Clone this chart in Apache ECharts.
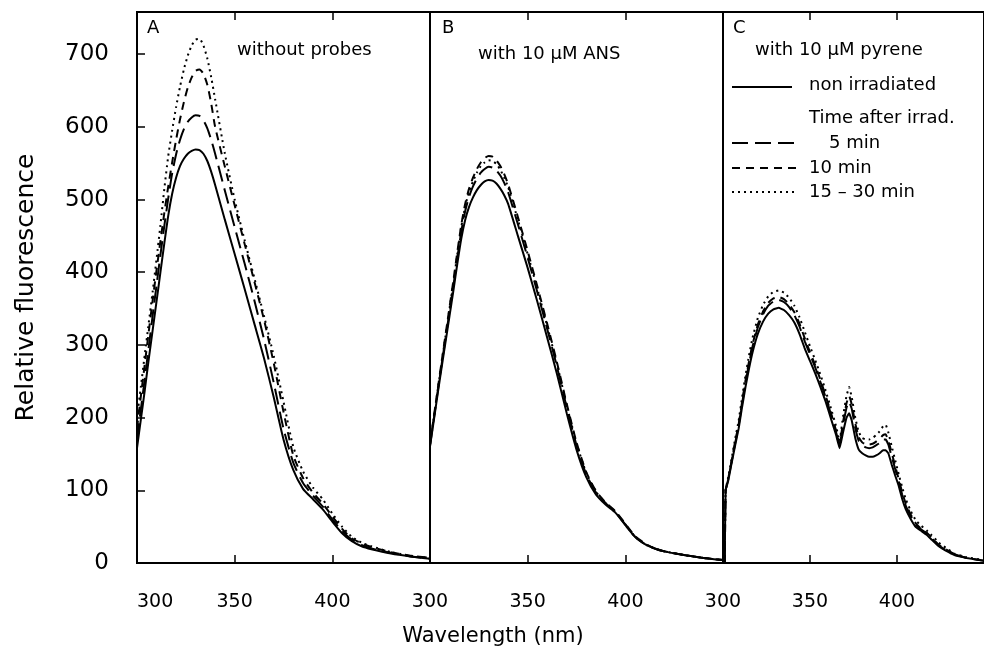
<!DOCTYPE html>
<html>
<head>
<meta charset="utf-8">
<script src="https://cdn.jsdelivr.net/npm/echarts@6/dist/echarts.min.js"></script>
<style>
  html, body { margin: 0; padding: 0; background: #fff; }
  #chart { width: 984px; height: 670px; }
</style>
</head>
<body>
<div id="chart"></div>
<script>
// Emission wavelengths (nm) sampled for panels A and B
const waveAB = [300, 302, 304, 306, 308, 310, 312, 314, 316, 318, 320, 322, 324, 326, 328, 330, 332, 334, 336, 338, 340, 345, 350, 355, 360, 365, 370, 375, 380, 385, 390, 395, 400, 405, 410, 415, 420, 430, 440, 450];
// Panel C is sampled more densely around the pyrene bands
const waveC = [301, 301.5, 303, 305, 307, 309, 311, 313, 315, 317, 320, 323, 326, 329, 332, 335, 338, 341, 344, 347, 350, 353, 356, 359, 362, 365, 367, 369, 371, 372.5, 374, 376, 378, 380, 382, 384, 386, 388, 390, 392, 393.5, 395, 397, 399, 401, 403, 405, 408, 411, 414, 417, 420, 424, 428, 433, 440, 450];

// A: without probes
const aNonIrr = [158, 198, 238, 280, 320, 360, 400, 440, 478, 508, 530, 546, 556, 563, 567, 569, 568, 563, 553, 538, 520, 472, 425, 378, 330, 282, 228, 170, 128, 102, 88, 74, 57, 41, 30, 23, 19, 13, 9, 6];
const a5min   = [170, 212, 254, 297, 340, 382, 424, 464, 502, 536, 562, 582, 597, 607, 613, 616, 615, 609, 598, 582, 563, 512, 462, 413, 362, 308, 248, 185, 138, 110, 93, 78, 60, 44, 32, 25, 20, 14, 9, 6];
const a10min  = [185, 230, 274, 318, 361, 403, 443, 482, 518, 551, 582, 610, 634, 654, 668, 677, 679, 673, 658, 632, 600, 545, 492, 440, 388, 335, 275, 208, 148, 117, 97, 82, 64, 47, 34, 27, 22, 15, 10, 7];
const a15min  = [200, 243, 287, 330, 373, 418, 465, 515, 560, 595, 627, 655, 679, 698, 712, 720, 721, 712, 694, 668, 638, 563, 500, 445, 393, 340, 285, 222, 160, 126, 104, 88, 68, 50, 36, 28, 23, 15, 10, 7];

// B: with 10 µM ANS
const bNonIrr = [160, 197, 234, 270, 305, 340, 375, 412, 446, 472, 490, 503, 513, 520, 525, 527, 526, 522, 515, 506, 494, 450, 406, 359, 310, 260, 206, 156, 118, 94, 80, 69, 52, 36, 26, 20, 16, 11, 7, 4];
const b5min   = [162, 199, 237, 274, 310, 346, 382, 420, 456, 484, 504, 518, 529, 537, 542, 545, 544, 540, 533, 523, 510, 466, 420, 372, 322, 270, 214, 162, 122, 97, 82, 70, 53, 36, 26, 20, 16, 11, 7, 4];
const b10min  = [164, 202, 240, 278, 315, 352, 389, 428, 465, 494, 515, 530, 542, 551, 557, 560, 559, 554, 546, 535, 521, 476, 429, 380, 329, 276, 219, 166, 125, 99, 83, 71, 54, 37, 27, 20, 16, 11, 7, 4];
const b15min  = [163, 201, 239, 276, 313, 350, 386, 425, 462, 490, 511, 525, 537, 546, 551, 554, 553, 549, 541, 530, 517, 472, 425, 377, 326, 274, 217, 165, 124, 98, 82, 70, 53, 36, 26, 20, 16, 11, 7, 4];

// C: with 10 µM pyrene
const cNonIrr = [0, 100, 113, 138, 162, 185, 215, 243, 268, 290, 315, 332, 343, 349, 351, 348, 341, 331, 315, 295, 278, 261, 242, 222, 199, 176, 158, 180, 200, 206, 196, 172, 156, 151, 148, 146, 146, 148, 151, 155, 155, 151, 135, 120, 106, 88, 74, 60, 49, 44, 39, 32, 23, 17, 11, 7, 3];
const c5min   = [0, 100, 115, 140, 165, 189, 220, 249, 275, 298, 324, 342, 354, 360, 362, 359, 352, 341, 325, 305, 287, 269, 249, 228, 205, 180, 162, 190, 214, 222, 212, 186, 168, 162, 159, 158, 159, 162, 165, 170, 170, 163, 146, 129, 112, 94, 79, 64, 52, 46, 41, 34, 24, 18, 12, 7, 3];
const c10min  = [0, 100, 116, 141, 167, 191, 222, 252, 278, 301, 328, 346, 358, 364, 366, 363, 356, 345, 329, 309, 290, 272, 252, 230, 207, 182, 164, 194, 220, 230, 218, 192, 173, 166, 163, 163, 164, 167, 171, 176, 177, 169, 151, 133, 115, 97, 82, 66, 54, 47, 42, 35, 25, 19, 12, 7, 3];
const c15min  = [0, 100, 118, 144, 171, 196, 228, 259, 286, 310, 337, 355, 367, 373, 375, 372, 365, 354, 338, 318, 298, 279, 259, 237, 213, 188, 168, 202, 230, 242, 228, 200, 180, 172, 170, 170, 172, 176, 181, 188, 190, 180, 160, 141, 122, 104, 88, 71, 58, 51, 45, 38, 28, 21, 13, 8, 4];

// Axis ticks
const yTicks = [0, 100, 200, 300, 400, 500, 600, 700];
const xTicks = [300, 350, 400];

const FONT = 'DejaVu Sans';
const INK = '#000';
const X_MIN = 300, X_MAX = 450, X_STEP = 50;
const Y_MIN = 0, Y_MAX = 758, Y_STEP = 100;

// Line styles per irradiation time
const dashStyles = {
  nonIrr: 'solid',
  min5: [16, 7],
  min10: [8, 6],
  min15: [2, 4]
};

const panels = [
  { wave: waveAB, sets: [aNonIrr, a5min, a10min, a15min], left: 137, smooth: 0.2 },
  { wave: waveAB, sets: [bNonIrr, b5min, b10min, b15min], left: 430, smooth: 0.2 },
  { wave: waveC,  sets: [cNonIrr, c5min, c10min, c15min], left: 723, smooth: 0.1 }
];
const styleKeys = ['nonIrr', 'min5', 'min10', 'min15'];
const seriesNames = ['non irradiated', '5 min', '10 min', '15 – 30 min'];

const PANEL_W = 293, TOP = 12, PLOT_H = 551;

const grids = panels.map(p => ({
  left: p.left, top: TOP, width: PANEL_W, height: PLOT_H,
  show: true, borderColor: INK, borderWidth: 2, backgroundColor: 'transparent',
  containLabel: false
}));

const xAxes = [];
panels.forEach((p, i) => {
  // bottom axis with labels
  xAxes.push({
    type: 'value', gridIndex: i, position: 'bottom',
    min: X_MIN, max: X_MAX, interval: X_STEP,
    axisLine: { show: true, lineStyle: { color: INK, width: 2 } },
    axisTick: { show: true, inside: true, length: 8, lineStyle: { color: INK, width: 1.5 } },
    splitLine: { show: false },
    axisLabel: {
      show: true, color: INK, fontFamily: FONT, fontSize: 19, margin: 30,
      showMaxLabel: false,
      alignMinLabel: i === 0 ? 'left' : 'center',
      formatter: v => (xTicks.indexOf(v) >= 0 ? String(v) : '')
    }
  });
});
panels.forEach((p, i) => {
  // mirrored top axis carrying ticks only
  xAxes.push({
    type: 'value', gridIndex: i, position: 'top',
    min: X_MIN, max: X_MAX, interval: X_STEP,
    axisLine: { show: false },
    axisTick: { show: true, inside: true, length: 8, lineStyle: { color: INK, width: 1.5 } },
    splitLine: { show: false },
    axisLabel: { show: false }
  });
});

const yAxes = panels.map((p, i) => ({
  type: 'value', gridIndex: i,
  min: Y_MIN, max: Y_MAX, interval: Y_STEP,
  axisLine: { show: i === 0, lineStyle: { color: INK, width: 2 } },
  axisTick: { show: i === 0, inside: true, length: 8, lineStyle: { color: INK, width: 1.5 } },
  splitLine: { show: false },
  axisLabel: {
    show: i === 0, color: INK, fontFamily: FONT, fontSize: 23, margin: 28,
    showMaxLabel: false,
    formatter: v => (yTicks.indexOf(v) >= 0 ? String(v) : '')
  },
  name: i === 0 ? 'Relative fluorescence' : '',
  nameLocation: 'middle', nameGap: 98,
  nameTextStyle: { color: INK, fontFamily: FONT, fontSize: 25 }
}));

const series = [];
panels.forEach((p, i) => {
  p.sets.forEach((vals, k) => {
    series.push({
      type: 'line', name: seriesNames[k],
      xAxisIndex: i, yAxisIndex: i,
      data: p.wave.map((w, j) => [w, vals[j]]),
      showSymbol: false, smooth: p.smooth,
      lineStyle: { color: INK, width: 2, type: dashStyles[styleKeys[k]] },
      silent: true, animation: false, z: 3 + k
    });
  });
});

// Panel captions and the key drawn inside panel C
const txt = (text, x, y, size, align) => ({
  type: 'text', x, y, silent: true,
  style: { text, fill: INK, font: `${size}px "${FONT}"`, textAlign: align || 'left', textVerticalAlign: 'middle' }
});
const keyLine = (x1, x2, y, dash) => ({
  type: 'line', silent: true,
  shape: { x1, y1: y, x2, y2: y },
  style: { stroke: INK, lineWidth: 2, lineDash: dash === 'solid' ? null : dash }
});

const graphic = [
  txt('A', 147, 28, 18),
  txt('without probes', 237, 50, 18),
  txt('B', 442, 28, 18),
  txt('with 10 µM ANS', 478, 54, 18),
  txt('C', 733, 28, 18),
  txt('with 10 µM pyrene', 755, 50, 18),
  keyLine(732, 792, 87, dashStyles.nonIrr),
  txt('non irradiated', 809, 85, 18),
  txt('Time after irrad.', 809, 118, 18),
  keyLine(732, 797, 143, dashStyles.min5),
  txt('5 min', 829, 143, 18),
  keyLine(732, 797, 168, dashStyles.min10),
  txt('10 min', 809, 168, 18),
  keyLine(732, 795, 192, dashStyles.min15),
  txt('15 – 30 min', 809, 192, 18),
  txt('Wavelength (nm)', 493, 637, 21, 'center')
];

const chart = echarts.init(document.getElementById('chart'), null, { renderer: 'canvas' });
chart.setOption({
  backgroundColor: '#fff',
  animation: false,
  grid: grids,
  xAxis: xAxes,
  yAxis: yAxes,
  series,
  graphic
});
</script>
</body>
</html>
